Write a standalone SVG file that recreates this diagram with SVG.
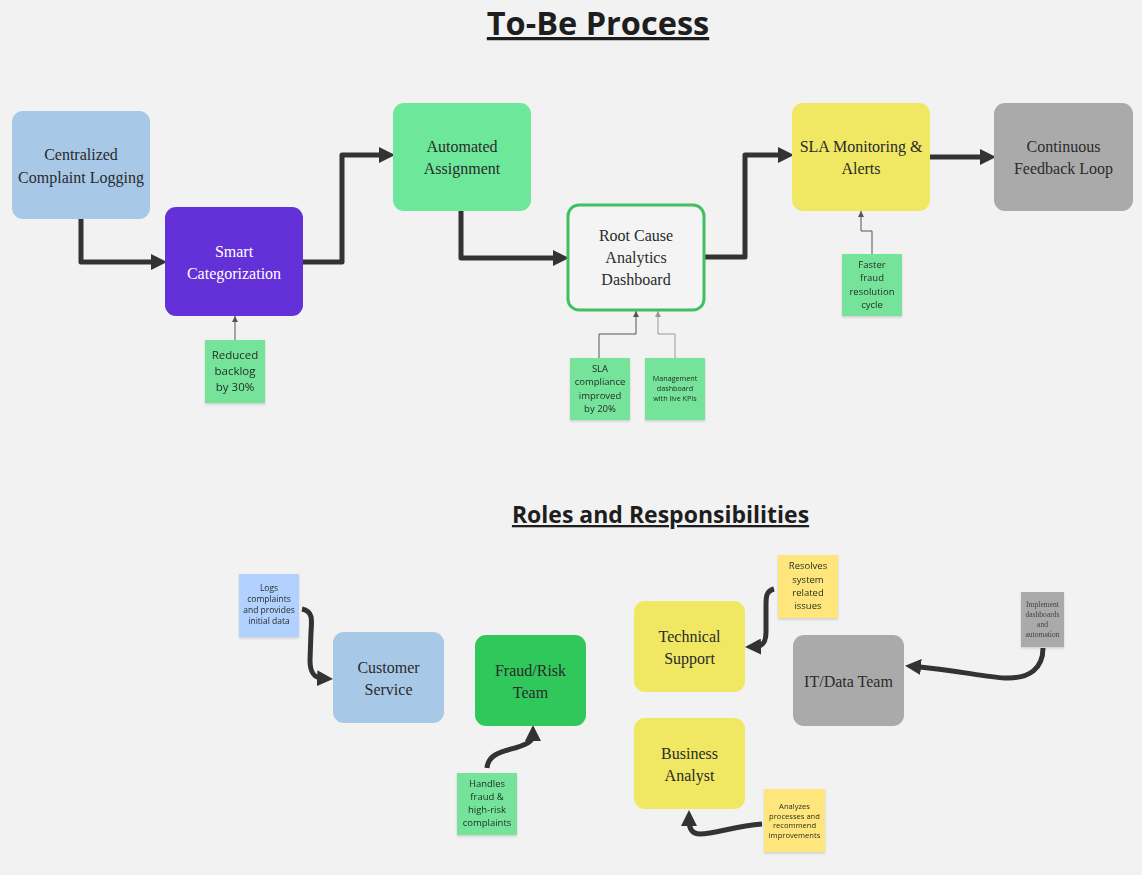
<svg xmlns="http://www.w3.org/2000/svg" width="1142" height="875" viewBox="0 0 1142 875">
<style>
.title{font-family:"Open Sans","Noto Sans",sans-serif;font-weight:700;fill:#1e1e1e;text-anchor:middle;text-decoration:underline}
.node{font-family:"Liberation Serif","DejaVu Serif",serif;font-size:16px;fill:#2a2a2a;text-anchor:middle}
.note{font-family:"Open Sans","Noto Sans",sans-serif;fill:#1f2a22;text-anchor:middle}
.thick{fill:none;stroke:#333;stroke-width:5;stroke-linejoin:round;stroke-linecap:butt}
.thin{fill:none;stroke:#555;stroke-width:1}
.thin2{fill:none;stroke:#999;stroke-width:1}
.sg{fill:#76e39b}
.sb{fill:#b3d1ff}
.sy{fill:#ffe67c}
</style>
<defs>
<marker id="big" markerUnits="userSpaceOnUse" markerWidth="16" markerHeight="16" refX="6" refY="8" orient="auto" viewBox="0 0 16 16">
<path d="M0,0 L16,8 L0,16 z" fill="#333"/>
</marker>
<marker id="small" markerUnits="userSpaceOnUse" markerWidth="6" markerHeight="6" refX="6" refY="3" orient="auto" viewBox="0 0 6 6">
<path d="M0,0 L6,3 L0,6 z" fill="#555"/>
</marker>
<marker id="small2" markerUnits="userSpaceOnUse" markerWidth="6" markerHeight="6" refX="6" refY="3" orient="auto" viewBox="0 0 6 6">
<path d="M0,0 L6,3 L0,6 z" fill="#999"/>
</marker>
<filter id="sh" x="-10%" y="-10%" width="130%" height="130%">
<feDropShadow dx="0" dy="1.5" stdDeviation="1.2" flood-color="#000" flood-opacity="0.15"/>
</filter>
</defs>
<rect width="1142" height="875" fill="#f2f2f2"/>

<text class="title" x="598" y="35" font-size="32.5">To-Be Process</text>
<text class="title" x="660.5" y="523" font-size="23">Roles and Responsibilities</text>

<g id="connectors">
<path class="thick" d="M81,219 V262 H157" marker-end="url(#big)"/>
<path class="thick" d="M303,262 H342 V155 H385" marker-end="url(#big)"/>
<path class="thick" d="M461,211 V258 H559" marker-end="url(#big)"/>
<path class="thick" d="M705,257 H745 V155 H784" marker-end="url(#big)"/>
<path class="thick" d="M930,157 H986" marker-end="url(#big)"/>
<path class="thin" d="M235,340 V316" marker-end="url(#small)"/>
<path class="thin" d="M599,358 V334 H636 V311" marker-end="url(#small)"/>
<path class="thin2" d="M675,358 V334 H658 V311" marker-end="url(#small2)"/>
<path class="thin" d="M872,254 V231 H861 V211" marker-end="url(#small)"/>
<path class="thick" d="M302,609 C313,611 312,620 311,632 L310,660 C310,673 314,678 323,678.5" marker-end="url(#big)"/>
<path class="thick" d="M487,768 C488,755 500,752 515,748 C528,744 533,741 533,735" marker-end="url(#big)"/>
<path class="thick" d="M774,589 C766,591 766,597 766,605 L766,632 C766,642 763,646.5 755,646.7" marker-end="url(#big)"/>
<path class="thick" d="M1043,648 C1043,668 1030,679 1005,678 C985,677 955,670 915,666.5" marker-end="url(#big)"/>
<path class="thick" d="M762,824 C735,826 715,834 700,834 C692,834 689,828 689,820" marker-end="url(#big)"/>
</g>

<g id="centralized">
<rect x="12" y="111" width="138" height="108" rx="11" fill="#a8c8e8"/>
<text class="node" x="81" y="160">Centralized</text>
<text class="node" x="81" y="183">Complaint Logging</text>
</g>
<g id="smart">
<rect x="165" y="207" width="138" height="109" rx="11" fill="#6430d8"/>
<text class="node" x="234" y="257" style="fill:#ffffff">Smart</text>
<text class="node" x="234" y="279" style="fill:#ffffff">Categorization</text>
</g>
<g id="automated">
<rect x="393" y="103" width="138" height="108" rx="11" fill="#6de89a"/>
<text class="node" x="462" y="152">Automated</text>
<text class="node" x="462" y="174">Assignment</text>
</g>
<g id="rootcause">
<rect x="568" y="205" width="136" height="105" rx="11" fill="#f4f4f4" stroke="#40c060" stroke-width="3"/>
<text class="node" x="636" y="241">Root Cause</text>
<text class="node" x="636" y="263">Analytics</text>
<text class="node" x="636" y="285">Dashboard</text>
</g>
<g id="sla">
<rect x="792" y="103" width="138" height="108" rx="11" fill="#f0e862"/>
<text class="node" x="861" y="152">SLA Monitoring &amp;</text>
<text class="node" x="861" y="174">Alerts</text>
</g>
<g id="continuous">
<rect x="994" y="103" width="139" height="108" rx="11" fill="#aaaaaa"/>
<text class="node" x="1063.5" y="152">Continuous</text>
<text class="node" x="1063.5" y="174">Feedback Loop</text>
</g>

<g id="note-reduced" filter="url(#sh)">
<rect class="sg" x="205" y="340" width="60" height="63"/>
<text class="note" x="235" font-size="11.5"><tspan x="235" y="359">Reduced</tspan><tspan x="235" y="375">backlog</tspan><tspan x="235" y="391">by 30%</tspan></text>
</g>
<g id="note-sla" filter="url(#sh)">
<rect class="sg" x="570" y="358" width="60" height="62"/>
<text class="note" x="600" font-size="9.5"><tspan x="600" y="371.5">SLA</tspan><tspan x="600" y="385">compliance</tspan><tspan x="600" y="398.5">improved</tspan><tspan x="600" y="412">by 20%</tspan></text>
</g>
<g id="note-mgmt" filter="url(#sh)">
<rect class="sg" x="645" y="358" width="60" height="62"/>
<text class="note" x="675" font-size="7.2"><tspan x="675" y="380.5">Management</tspan><tspan x="675" y="390.5">dashboard</tspan><tspan x="675" y="400.5">with live KPIs</tspan></text>
</g>
<g id="note-faster" filter="url(#sh)">
<rect class="sg" x="842" y="254" width="60" height="62"/>
<text class="note" x="872" font-size="9.5"><tspan x="872" y="267.5">Faster</tspan><tspan x="872" y="281">fraud</tspan><tspan x="872" y="294.5">resolution</tspan><tspan x="872" y="308">cycle</tspan></text>
</g>

<g id="customer-service">
<rect x="333" y="632" width="111" height="91" rx="11" fill="#a8c8e8"/>
<text class="node" x="388.5" y="673">Customer</text>
<text class="node" x="388.5" y="695">Service</text>
</g>
<g id="fraud-risk">
<rect x="475" y="635" width="111" height="91" rx="11" fill="#30c85a"/>
<text class="node" x="530.5" y="676">Fraud/Risk</text>
<text class="node" x="530.5" y="698">Team</text>
</g>
<g id="technical-support">
<rect x="634" y="601" width="111" height="91" rx="11" fill="#f0e862"/>
<text class="node" x="689.5" y="642">Technical</text>
<text class="node" x="689.5" y="664">Support</text>
</g>
<g id="business-analyst">
<rect x="634" y="718" width="111" height="91" rx="11" fill="#f0e862"/>
<text class="node" x="689.5" y="759">Business</text>
<text class="node" x="689.5" y="781">Analyst</text>
</g>
<g id="it-data">
<rect x="793" y="635" width="111" height="91" rx="11" fill="#aaaaaa"/>
<text class="node" x="848.5" y="687">IT/Data Team</text>
</g>

<g id="note-logs" filter="url(#sh)">
<rect class="sb" x="239" y="574" width="60" height="63"/>
<text class="note" x="269" font-size="8.5"><tspan x="269" y="591">Logs</tspan><tspan x="269" y="602">complaints</tspan><tspan x="269" y="613">and provides</tspan><tspan x="269" y="624">initial data</tspan></text>
</g>
<g id="note-handles" filter="url(#sh)">
<rect class="sg" x="457" y="773" width="60" height="62"/>
<text class="note" x="487" font-size="9.5"><tspan x="487" y="786.5">Handles</tspan><tspan x="487" y="800">fraud &amp;</tspan><tspan x="487" y="813">high-risk</tspan><tspan x="487" y="826">complaints</tspan></text>
</g>
<g id="note-resolves" filter="url(#sh)">
<rect class="sy" x="778" y="555" width="60" height="63"/>
<text class="note" x="808" font-size="9.5"><tspan x="808" y="569">Resolves</tspan><tspan x="808" y="582.5">system</tspan><tspan x="808" y="596">related</tspan><tspan x="808" y="609">issues</tspan></text>
</g>
<g id="note-implement" filter="url(#sh)">
<rect x="1021" y="592" width="43" height="55" fill="#aaaaaa"/>
<text x="1042.5" font-family="Liberation Serif,DejaVu Serif,serif" font-size="7.6" fill="#444" text-anchor="middle"><tspan x="1042.5" y="606.5">Implement</tspan><tspan x="1042.5" y="616.5">dashboards</tspan><tspan x="1042.5" y="626.5">and</tspan><tspan x="1042.5" y="636.5">automation</tspan></text>
</g>
<g id="note-analyzes" filter="url(#sh)">
<rect class="sy" x="764" y="789" width="61" height="63"/>
<text class="note" x="794.5" font-size="7.6"><tspan x="794.5" y="808.5">Analyzes</tspan><tspan x="794.5" y="818.5">processes and</tspan><tspan x="794.5" y="828">recommend</tspan><tspan x="794.5" y="838">improvements</tspan></text>
</g>
</svg>
